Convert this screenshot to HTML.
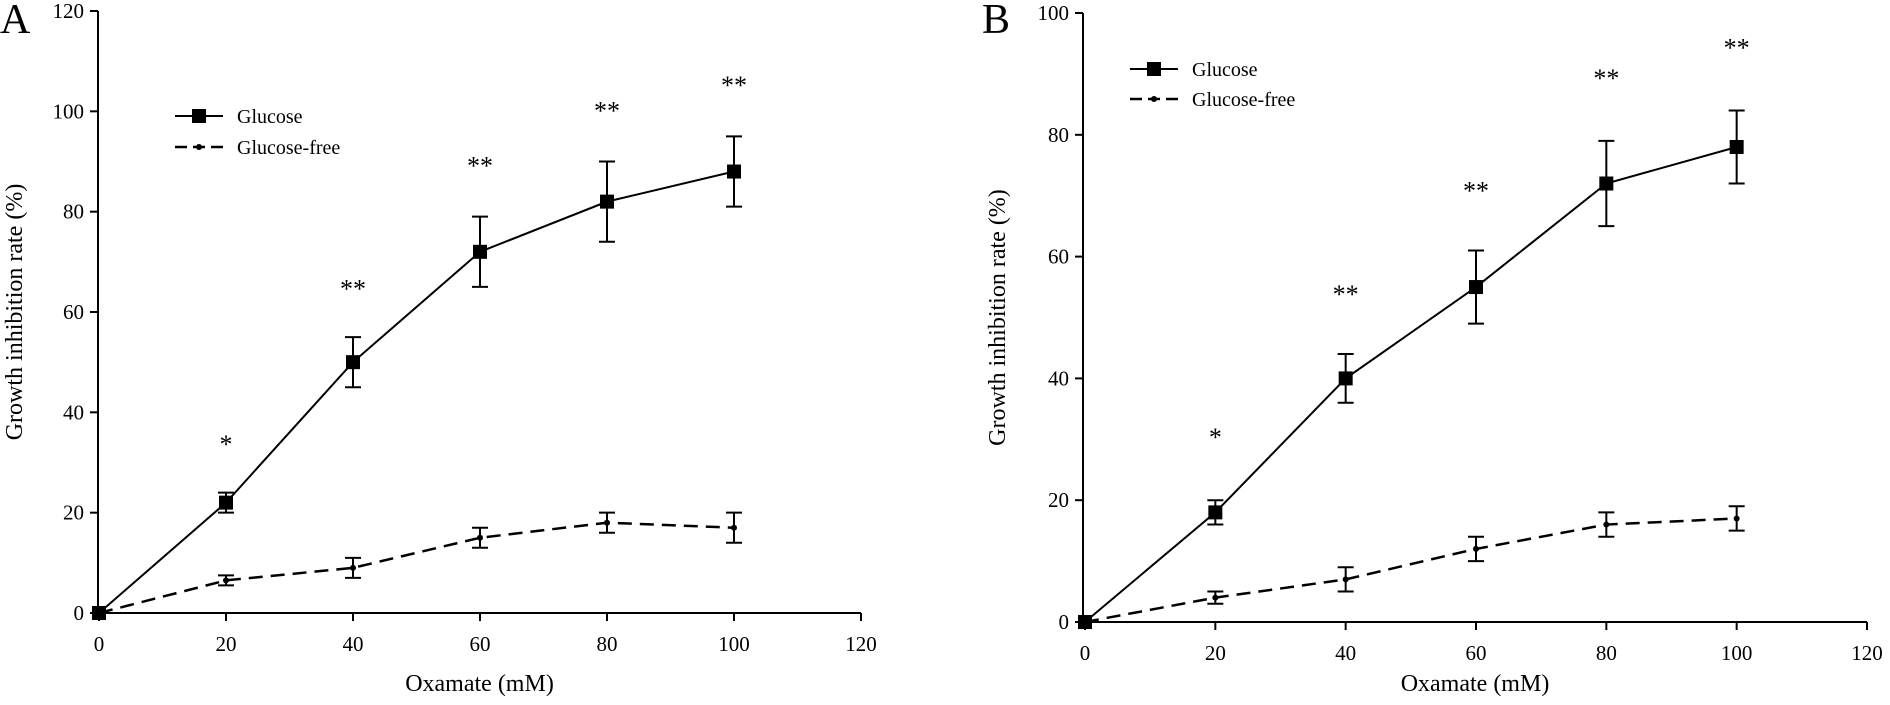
<!DOCTYPE html>
<html><head><meta charset="utf-8">
<style>
html,body{margin:0;padding:0;background:#fff;}
svg{display:block;font-family:"Liberation Serif",serif;}
</style></head>
<body>
<svg id="chart" width="1890" height="705" viewBox="0 0 1890 705"></svg>
<script>
const xCats = [0, 20, 40, 60, 80, 100];
const aGlucose = [0, 22, 50, 72, 82, 88];
const aGlucoseErr = [0, 2, 5, 7, 8, 7];
const aFree = [0, 6.5, 9, 15, 18, 17];
const aFreeErr = [0, 1, 2, 2, 2, 3];
const aStars = ["", "*", "**", "**", "**", "**"];
const aStarY = [0, 34.5, 65.5, 90, 101, 106];
const aYTicks = [0, 20, 40, 60, 80, 100, 120];

const bGlucose = [0, 18, 40, 55, 72, 78];
const bGlucoseErr = [0, 2, 4, 6, 7, 6];
const bFree = [0, 4, 7, 12, 16, 17];
const bFreeErr = [0, 1, 2, 2, 2, 2];
const bStars = ["", "*", "**", "**", "**", "**"];
const bStarY = [0, 31, 54.5, 71.5, 90, 95];
const bYTicks = [0, 20, 40, 60, 80, 100];

const xTicks = [0, 20, 40, 60, 80, 100, 120];

const svg = document.getElementById('chart');
const NS = 'http://www.w3.org/2000/svg';
function mk(tag, attrs, parent) {
  const e = document.createElementNS(NS, tag);
  for (const k in attrs) e.setAttribute(k, attrs[k]);
  (parent || svg).appendChild(e);
  return e;
}

function panel(cfg) {
  const g = mk('g', {});
  
  
  const xs = v => cfg.x0 + (v - 0) * (cfg.x1 - cfg.x0) / 120;
  const ys = v => cfg.y0 - v * (cfg.y0 - cfg.yTop) / cfg.yMax;

  const ya = mk('line', {x1: cfg.axX, y1: ys(cfg.yMax), x2: cfg.axX, y2: cfg.y0, stroke: '#000', 'stroke-width': 2}, g);
  
  
  const xa = mk('line', {x1: cfg.axX, y1: cfg.y0, x2: xs(120), y2: cfg.y0, stroke: '#000', 'stroke-width': 2}, g);
  
  

  cfg.yTicks.forEach(v => {
    mk('line', {x1: cfg.axX - 8, y1: ys(v), x2: cfg.axX, y2: ys(v), stroke: '#000', 'stroke-width': 2}, g);
    const t = mk('text', {x: cfg.axX - 14, y: ys(v) + 7, 'text-anchor': 'end', 'font-size': 21}, g);
    t.textContent = v;
    
    
  });
  xTicks.forEach(v => {
    mk('line', {x1: xs(v), y1: cfg.y0, x2: xs(v), y2: cfg.y0 + 8, stroke: '#000', 'stroke-width': 2}, g);
    const t = mk('text', {x: xs(v), y: cfg.y0 + 38, 'text-anchor': 'middle', 'font-size': 21}, g);
    t.textContent = v;
    
    
  });

  const xt = mk('text', {x: (cfg.axX + xs(120)) / 2, y: 691, 'text-anchor': 'middle', 'font-size': 24}, g);
  xt.textContent = 'Oxamate (mM)';
  
  
  const cy = (ys(cfg.yMax) + cfg.y0) / 2;
  const yt = mk('text', {x: cfg.ytX, y: cy, 'text-anchor': 'middle', 'font-size': 24, transform: 'rotate(-90 ' + cfg.ytX + ' ' + cy + ')'}, g);
  yt.textContent = 'Growth inhibition rate (%)';
  
  

  const lab = mk('text', {x: cfg.labX, y: 33, 'font-size': 42}, g);
  lab.textContent = cfg.label;
  
  

  function series(vals, errs, dashed, name) {
    const pts = xCats.map((c, i) => xs(c) + ',' + ys(vals[i])).join(' ');
    const pl = mk('polyline', {points: pts, fill: 'none', stroke: '#000', 'stroke-width': dashed ? 2.5 : 2, 'stroke-dasharray': dashed ? '14,8' : 'none'}, g);
    
    
    xCats.forEach((c, i) => {
      const x = xs(c);
      if (errs[i] > 0) {
        const hi = ys(vals[i] + errs[i]), lo = ys(vals[i] - errs[i]);
        const eb = mk('path', {d: `M${x},${hi}V${lo}M${x-8},${hi}H${x+8}M${x-8},${lo}H${x+8}`, stroke: '#000', 'stroke-width': 2, fill: 'none'}, g);
        
        
      }
      let m;
      if (!dashed) m = mk('rect', {x: x - 7, y: ys(vals[i]) - 7, width: 14, height: 14, fill: '#000'}, g);
      else m = mk('circle', {cx: x, cy: ys(vals[i]), r: 3, fill: '#000'}, g);
      
      
    });
  }
  series(cfg.free, cfg.freeErr, true, 'glucose-free');
  series(cfg.glu, cfg.gluErr, false, 'glucose');

  xCats.forEach((c, i) => {
    if (!cfg.stars[i]) return;
    const s = mk('text', {x: xs(c), y: ys(cfg.starY[i]) + 13, 'text-anchor': 'middle', 'font-size': 26}, g);
    s.textContent = cfg.stars[i];
    
    
  });

  const lg = mk('g', {}, g);
  
  
  const L = cfg.leg;
  mk('line', {x1: L.x, y1: L.y, x2: L.x + 48, y2: L.y, stroke: '#000', 'stroke-width': 2}, lg);
  mk('rect', {x: L.x + 17, y: L.y - 7, width: 14, height: 14, fill: '#000'}, lg);
  const t1 = mk('text', {x: L.x + 62, y: L.y + 7, 'font-size': 20}, lg);
  t1.textContent = 'Glucose';
  
  
  mk('line', {x1: L.x, y1: L.y + L.gap, x2: L.x + 48, y2: L.y + L.gap, stroke: '#000', 'stroke-width': 2.5, 'stroke-dasharray': '12,6'}, lg);
  mk('circle', {cx: L.x + 24, cy: L.y + L.gap, r: 3, fill: '#000'}, lg);
  const t2 = mk('text', {x: L.x + 62, y: L.y + L.gap + 7, 'font-size': 20}, lg);
  t2.textContent = 'Glucose-free';
  
  
}

panel({id: 'panel-a', label: 'A', labX: 0, axX: 98, x0: 99, x1: 861, y0: 613, yTop: 11, yMax: 120,
  yTicks: aYTicks, ytX: 22, glu: aGlucose, gluErr: aGlucoseErr, free: aFree, freeErr: aFreeErr,
  stars: aStars, starY: aStarY, leg: {x: 175, y: 116, gap: 31}});
panel({id: 'panel-b', label: 'B', labX: 982, axX: 1083, x0: 1085, x1: 1867, y0: 622, yTop: 13, yMax: 100,
  yTicks: bYTicks, ytX: 1005, glu: bGlucose, gluErr: bGlucoseErr, free: bFree, freeErr: bFreeErr,
  stars: bStars, starY: bStarY, leg: {x: 1130, y: 69, gap: 30}});
</script>
</body></html>
